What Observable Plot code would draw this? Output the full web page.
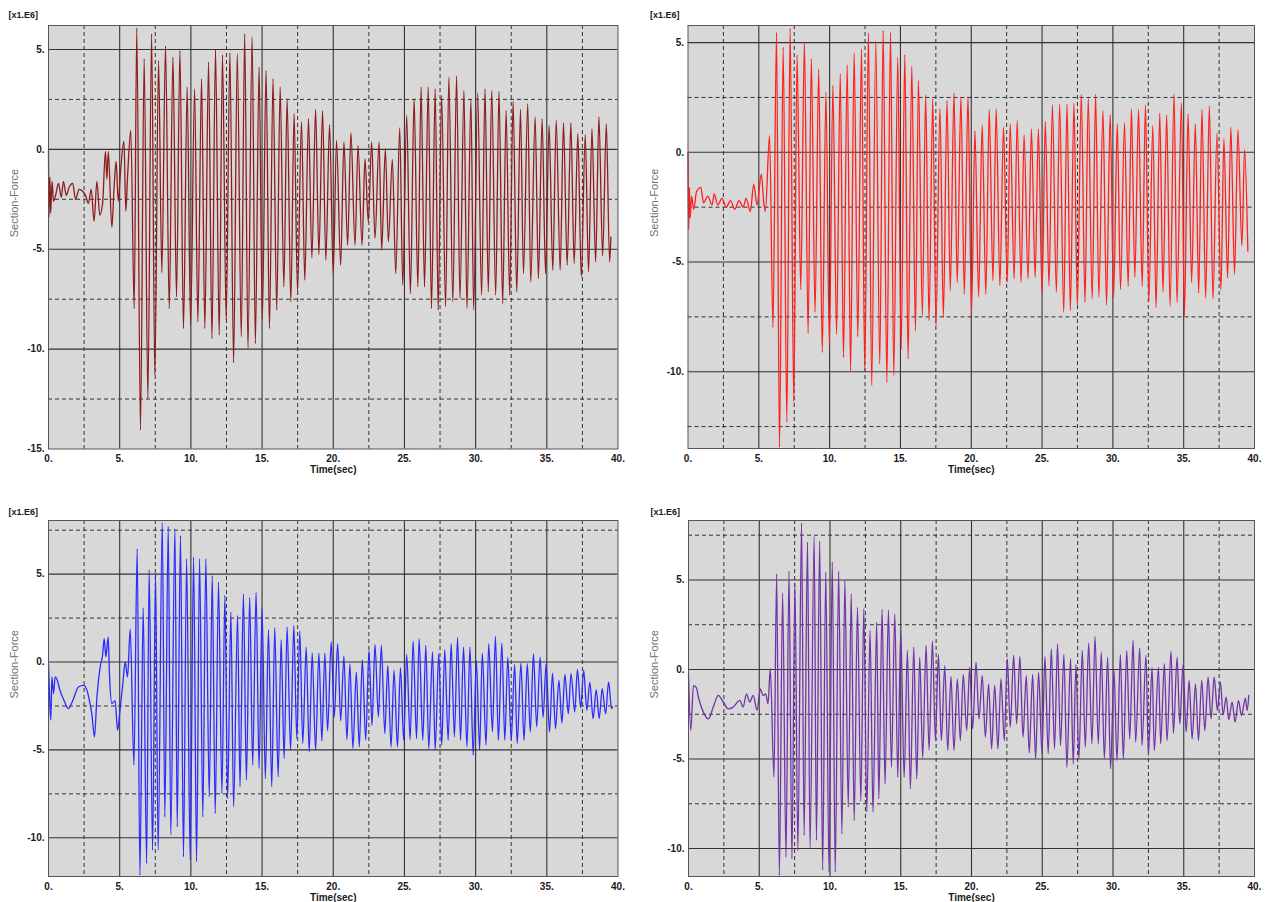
<!DOCTYPE html>
<html>
<head>
<meta charset="utf-8">
<script src="https://cdn.jsdelivr.net/npm/d3@7"></script>
<script src="https://cdn.jsdelivr.net/npm/@observablehq/plot@0.6"></script>
<style>
  html, body { margin: 0; padding: 0; background: #fff; }
  body { width: 1270px; height: 902px; position: relative; overflow: hidden; font-family: "Liberation Sans", Arial, sans-serif; }
  .panel { position: absolute; }
  .panel svg { display: block; }
</style>
</head>
<body>
<div id="p1" class="panel" style="left:0px;top:0px"></div>
<div id="p2" class="panel" style="left:635px;top:0px"></div>
<div id="p3" class="panel" style="left:0px;top:490px"></div>
<div id="p4" class="panel" style="left:635px;top:490px"></div>
<script>
// Section force time histories (units of 1e6), sampled at the turning points of each record.

// Top-left record (dark red)
const p1Time = [0,0.03,0.1,0.15,0.25,0.35,0.5,0.7,0.9,1.05,1.25,1.45,1.7,1.9,2.15,2.4,2.6,2.8,3.0,3.2,3.4,3.6,3.8,4.0,4.1,4.2,4.45,4.6,4.75,4.9,5.05,5.3,5.43,5.55,5.78,
  6.02,6.2,6.46,6.72,6.98,7.24,7.47,7.73,7.96,8.22,8.48,8.74,8.99,9.23,9.48,9.74,9.98,10.26,10.49,10.75,10.98,11.24,11.48,11.73,11.99,12.22,12.48,12.74,13.0,
  13.26,13.54,13.78,14.01,14.3,14.53,14.79,15.02,15.28,15.52,15.77,16.03,16.27,16.53,16.76,17.02,17.25,17.49,17.77,18.0,18.26,18.5,18.76,18.99,19.25,19.48,19.74,20.0,
  20.23,20.52,20.75,21.01,21.24,21.53,21.74,22.02,22.23,22.46,22.7,22.93,23.22,23.4,23.66,23.87,24.15,24.39,24.67,24.88,25.16,25.42,25.68,25.94,26.17,26.41,26.67,26.9,
  27.16,27.37,27.61,27.89,28.12,28.4,28.66,28.9,29.18,29.39,29.67,29.86,30.14,30.42,30.66,30.89,31.13,31.41,31.64,31.9,32.14,32.39,32.63,32.89,33.15,33.36,33.66,33.87,
  34.18,34.41,34.67,34.91,35.16,35.42,35.66,35.94,36.17,36.43,36.69,36.92,37.18,37.42,37.7,37.93,38.17,38.43,38.66,38.92,39.18,39.41,39.5];
const p1Force = [0,-3.4,-1.4,-3.2,-1.6,-2.6,-2.3,-1.7,-2.4,-1.6,-2.3,-1.9,-1.7,-2.5,-2.0,-2.1,-2.3,-2.7,-2.0,-3.6,-1.6,-3.3,-2.7,-0.1,-1.5,-0.1,-3.9,-2.0,-0.6,-2.6,-1.2,0.4,-3.1,-1.4,0.95,
  -7.97,6.07,-14.05,4.53,-12.47,5.78,-11.3,4.45,-6.17,5.17,-7.97,4.62,-7.38,4.95,-8.97,3.12,-8.8,3.03,-8.63,3.53,-8.97,4.37,-9.47,5.0,-9.3,4.73,-8.55,4.83,-10.68,
  4.78,-9.38,5.78,-9.97,5.62,-9.72,4.12,-8.5,3.95,-8.97,3.53,-8.05,3.12,-6.88,2.53,-7.63,1.78,-7.13,1.37,-6.55,1.53,-5.43,2.0,-5.27,1.92,-5.55,1.23,-6.22,
  0.45,-5.8,0.37,-4.8,0.83,-4.8,0.2,-4.8,-0.47,-3.63,0.37,-4.47,0.37,-5.05,0.03,-4.63,-0.5,-6.22,1.07,-6.8,1.7,-7.22,2.53,-6.88,3.12,-6.88,3.12,-7.97,
  3.03,-8.05,2.7,-7.88,3.62,-7.63,3.67,-7.47,2.95,-7.97,2.5,-8.05,2.83,-7.3,3.03,-7.13,2.95,-7.3,2.9,-7.72,1.95,-7.3,2.4,-7.13,2.0,-6.22,2.28,-6.63,
  1.62,-6.47,1.53,-6.22,1.2,-6.05,1.45,-6.05,1.33,-5.8,1.33,-5.72,0.78,-6.38,0.73,-6.13,1.03,-5.63,1.62,-5.33,1.28,-5.63,-4.4];

// Top-right record (red)
const p2Time = [0,0.05,0.1,0.15,0.25,0.4,0.6,0.9,1.1,1.4,1.7,1.85,2.1,2.4,2.7,3.0,3.3,3.6,3.9,4.1,4.4,4.64,4.87,5.18,5.35,5.46,5.76,
  6.0,6.25,6.46,6.72,6.98,7.21,7.47,7.7,7.96,8.22,8.48,8.71,8.97,9.23,9.48,9.74,9.98,10.23,10.49,10.75,10.98,11.24,11.48,11.73,11.99,12.25,12.48,12.74,12.97,
  13.26,13.54,13.78,14.04,14.3,14.53,14.81,15.05,15.31,15.54,15.8,16.06,16.27,16.55,16.78,17.02,17.28,17.51,17.79,18.03,18.29,18.52,18.78,19.01,19.27,19.51,19.77,20.02,
  20.26,20.52,20.77,21.03,21.27,21.53,21.76,22.02,22.28,22.54,22.75,23.03,23.24,23.52,23.73,24.01,24.25,24.51,24.74,25.0,25.23,25.49,25.73,26.01,26.24,26.53,26.76,27.0,
  27.25,27.49,27.77,28.03,28.26,28.54,28.78,29.01,29.3,29.55,29.81,30.05,30.31,30.54,30.82,31.08,31.31,31.55,31.81,32.07,32.3,32.54,32.82,33.05,33.31,33.54,33.8,34.04,
  34.32,34.53,34.84,35.05,35.31,35.56,35.82,36.06,36.29,36.55,36.81,37.07,37.35,37.63,37.84,38.1,38.33,38.59,38.83,39.11,39.3,39.53];
const p2Force = [0,-3.5,-1.6,-3.0,-2.0,-2.6,-1.8,-1.6,-2.3,-2.0,-2.4,-1.9,-2.4,-2.1,-2.5,-2.2,-2.6,-2.2,-2.5,-2.1,-2.7,-1.45,-2.4,-1.0,-2.3,-2.7,0.76,
  -7.98,5.47,-13.45,4.79,-12.3,5.65,-11.37,4.44,-6.26,5.02,-8.24,4.26,-7.29,3.8,-9.12,2.74,-8.81,3.04,-8.28,3.57,-9.35,3.98,-9.95,4.53,-8.4,4.71,-10.0,5.44,-10.64,
  5.09,-9.65,5.55,-10.49,5.47,-10.18,4.33,-8.97,4.44,-9.42,3.92,-8.13,3.27,-7.45,2.61,-7.67,2.43,-7.9,2.0,-7.52,2.36,-6.31,2.7,-5.93,2.51,-6.46,2.55,-7.29,
  0.99,-6.58,1.25,-6.46,1.93,-5.85,1.98,-6.08,1.14,-5.93,1.29,-5.78,1.44,-5.93,0.79,-5.78,1.06,-5.7,1.06,-6.38,1.4,-6.08,2.16,-6.38,2.2,-7.29,2.2,-7.22,
  2.24,-6.99,2.65,-6.84,2.45,-6.69,2.65,-6.61,1.9,-6.96,1.72,-6.61,1.29,-6.26,1.34,-6.11,1.98,-5.7,1.95,-6.11,2.16,-6.81,1.22,-7.08,1.79,-6.35,1.7,-7.02,
  2.66,-6.84,2.25,-7.45,1.75,-5.93,1.29,-6.41,1.95,-6.63,2.1,-6.69,0.88,-6.28,0.61,-5.73,1.14,-5.55,1.03,-4.26,0.12,-4.5];

// Bottom-left record (blue)
const p3Time = [0,0.1,0.16,0.24,0.35,0.47,0.6,0.8,1.1,1.4,1.7,2.1,2.46,2.7,2.85,3.05,3.23,3.4,3.63,3.8,3.91,4.03,4.19,4.28,4.45,4.68,4.85,5.03,5.22,5.39,5.55,5.74,
  6.0,6.23,6.42,6.65,6.89,7.07,7.31,7.52,7.7,7.99,8.17,8.41,8.59,8.88,9.04,9.27,9.48,9.7,9.95,10.19,10.4,10.61,10.84,11.05,11.29,11.5,11.71,11.94,12.18,12.39,12.58,12.81,13.0,
  13.28,13.45,13.69,13.9,14.13,14.34,14.58,14.79,15.0,15.23,15.45,15.68,15.89,16.13,16.34,16.55,16.76,17.0,17.23,17.44,17.65,17.86,18.1,18.31,18.52,18.76,18.99,19.2,19.41,19.6,
  19.86,20.07,20.31,20.52,20.75,20.96,21.17,21.38,21.62,21.83,22.04,22.28,22.51,22.72,22.93,23.17,23.38,23.62,23.83,24.06,24.27,24.51,24.72,24.95,25.16,25.4,25.61,25.85,26.03,26.29,
  26.5,26.71,26.97,27.16,27.41,27.62,27.83,28.07,28.28,28.51,28.73,28.94,29.15,29.39,29.6,29.83,30.05,30.28,30.47,30.73,30.92,31.18,31.39,31.6,31.84,32.05,32.26,32.5,32.74,32.92,
  33.18,33.4,33.63,33.84,34.06,34.29,34.53,34.74,34.95,35.19,35.4,35.61,35.85,36.06,36.27,36.51,36.7,36.96,37.15,37.38,37.59,37.81,38.02,38.25,38.47,38.68,38.89,39.13,39.34,39.55,39.62];
const p3Force = [-0.1,-2.5,-3.3,-0.85,-1.8,-0.85,-1.0,-1.6,-2.2,-2.65,-2.2,-1.42,-1.33,-1.6,-2.1,-3.0,-4.26,-2.0,-0.28,0.4,1.33,0.3,1.42,-0.66,-2.37,-2.2,-3.88,-2.65,-1.23,0.0,-0.85,1.89,
  -5.87,6.44,-12.12,3.09,-11.46,5.25,-10.7,5.02,-10.7,7.95,-8.81,7.71,-9.85,7.58,-9.38,7.2,-11.08,5.87,-11.27,5.97,-11.36,5.87,-8.81,5.87,-7.67,4.92,-8.62,4.55,-7.48,3.79,-7.77,2.84,-8.24,
  2.65,-7.1,3.86,-6.72,3.67,-5.87,3.94,-6.06,3.03,-6.63,1.83,-7.1,1.95,-6.53,1.27,-5.49,1.99,-5.02,2.08,-4.36,1.76,-4.64,0.85,-5.11,0.51,-5.02,0.51,-4.49,0.51,-3.92,
  1.14,-3.13,1.04,-3.35,0.34,-4.41,-0.09,-4.92,-0.57,-4.83,0.13,-4.45,0.66,-3.6,1.0,-3.13,0.95,-4.07,-0.19,-4.83,-0.47,-4.83,-0.32,-4.45,0.43,-4.41,1.19,-4.36,1.33,-4.45,
  0.95,-4.92,0.57,-4.98,0.47,-4.73,0.7,-4.45,1.04,-4.26,1.38,-4.45,0.85,-4.83,0.85,-5.3,0.09,-4.98,0.51,-4.73,1.04,-3.98,1.46,-4.45,1.08,-4.45,0.28,-4.45,-0.13,-4.64,
  -0.06,-4.45,-0.09,-3.98,0.47,-3.69,0.28,-3.16,-0.09,-3.98,-0.63,-3.79,-1.04,-3.47,-0.7,-2.94,-0.66,-2.84,-0.44,-2.6,-0.47,-2.75,-1.14,-3.22,-1.57,-3.22,-1.52,-2.94,-1.14,-2.65,-2.56];

// Bottom-right record (purple)
const p4Time = [0,0.16,0.35,0.55,0.7,1.05,1.4,1.75,2.1,2.46,2.81,3.16,3.63,3.86,4.1,4.33,4.57,4.85,5.08,5.27,5.46,5.62,5.78,
  6.04,6.23,6.42,6.65,6.89,7.1,7.31,7.52,7.73,7.99,8.17,8.41,8.59,8.88,9.04,9.27,9.48,9.7,9.93,10.16,10.37,10.61,10.84,11.05,11.29,11.5,11.71,11.94,12.18,12.39,12.6,12.83,13.04,
  13.3,13.45,13.68,13.89,14.13,14.34,14.58,14.79,15.0,15.24,15.47,15.68,15.92,16.13,16.34,16.55,16.79,17.0,17.24,17.45,17.66,17.87,18.11,18.32,18.55,18.76,19.0,19.21,19.42,19.66,
  19.87,20.08,20.32,20.53,20.76,20.98,21.21,21.42,21.64,21.87,22.08,22.32,22.53,22.74,22.98,23.19,23.42,23.64,23.87,24.08,24.32,24.53,24.74,24.98,25.19,25.42,25.64,25.87,26.08,26.29,
  26.53,26.74,27.0,27.19,27.38,27.59,27.83,28.04,28.28,28.51,28.73,28.96,29.17,29.39,29.62,29.83,30.07,30.28,30.52,30.73,30.97,31.18,31.42,31.6,31.89,32.05,32.33,32.5,32.76,32.92,
  33.21,33.37,33.63,33.82,34.1,34.27,34.53,34.72,34.95,35.17,35.38,35.59,35.83,36.04,36.27,36.49,36.72,36.93,37.15,37.38,37.59,37.78,38.0,38.18,38.42,38.63,38.87,39.08,39.36,39.48,39.6];
const p4Force = [-0.25,-3.4,-0.9,-1.0,-1.55,-2.38,-2.76,-2.1,-1.45,-1.82,-2.2,-2.1,-1.73,-2.1,-1.36,-1.82,-1.45,-2.27,-1.08,-1.45,-1.36,-1.92,0.04,
  -6.0,5.34,-11.5,4.26,-10.48,5.49,-10.58,4.82,-10.11,8.18,-9.27,7.11,-9.96,7.43,-9.55,7.17,-11.19,5.44,-11.32,6.0,-11.32,5.49,-9.18,4.97,-7.69,4.23,-8.44,3.48,-7.36,3.39,-7.97,2.18,-7.97,
  2.64,-7.22,3.35,-6.39,3.31,-5.46,3.09,-6.02,2.2,-6.02,1.06,-6.67,1.25,-6.11,0.69,-4.93,1.34,-4.49,1.58,-3.97,0.84,-3.97,0.22,-4.53,-0.39,-4.53,-0.52,-3.97,-0.28,-3.41,
  0.13,-3.32,0.41,-2.76,-0.34,-3.78,-0.8,-4.43,-0.89,-4.43,-0.52,-3.97,0.6,-3.22,0.78,-3.03,0.73,-3.78,-0.34,-4.67,-0.28,-4.99,-0.15,-4.71,0.73,-4.71,1.15,-4.43,1.43,-4.25,
  0.84,-5.46,0.6,-5.27,0.28,-4.99,1.06,-4.34,1.47,-4.15,1.84,-4.15,0.97,-4.99,0.69,-5.55,-0.02,-5.09,0.84,-4.99,1.06,-3.88,1.62,-4.06,1.21,-4.25,0.78,-4.81,0.13,-4.53,
  0.13,-4.15,0.32,-3.97,1.02,-3.56,0.69,-3.04,0.28,-3.5,-0.61,-3.88,-0.8,-3.97,-0.61,-3.41,-0.43,-2.76,-0.43,-2.29,-0.71,-2.53,-1.55,-2.81,-1.83,-2.94,-1.74,-2.57,-1.6,-2.29,-1.45];

// Axis settings shared by the four panels
const timeTicks = [0, 5, 10, 15, 20, 25, 30, 35, 40];
const scaleNote = "[x1.E6]";
const yTitle = "Section-Force";
const xTitle = "Time(sec)";

const panels = [
  {id: "p1", time: p1Time, force: p1Force, color: "#8e1c1c", yDomain: [-15, 6.2], yTicks: [-15, -10, -5, 0, 5],
   width: 635, height: 480, mt: 25, mb: 31.5, ml: 48, mr: 17.5, noteDx: -40, noteDy: -8},
  {id: "p2", time: p2Time, force: p2Force, color: "#ff1f1f", yDomain: [-13.5, 5.78], yTicks: [-10, -5, 0, 5],
   width: 635, height: 480, mt: 25, mb: 32, ml: 52.5, mr: 16, noteDx: -38, noteDy: -8},
  {id: "p3", time: p3Time, force: p3Force, color: "#2b2bff", yDomain: [-12.2, 8.05], yTicks: [-10, -5, 0, 5],
   width: 635, height: 412, mt: 30, mb: 26, ml: 48, mr: 17.5, noteDx: -40, noteDy: -6},
  {id: "p4", time: p4Time, force: p4Force, color: "#7232a8", yDomain: [-11.56, 8.32], yTicks: [-10, -5, 0, 5],
   width: 635, height: 412, mt: 30, mb: 26, ml: 53, mr: 16, noteDx: -38, noteDy: -6}
];

const fmt = d => `${d}.`;

for (const p of panels) {
  const data = p.time.map((t, i) => ({t, f: p.force[i]}));
  const [y0, y1] = p.yDomain;
  const solidX = [5, 10, 15, 20, 25, 30, 35];
  const dashX = [2.5, 7.5, 12.5, 17.5, 22.5, 27.5, 32.5, 37.5];
  const solidY = d3.range(Math.ceil(y0 / 5) * 5, y1, 5).filter(v => v > y0 + 0.01 && v < y1 - 0.01);
  const dashY = d3.range(Math.ceil((y0 - 2.5) / 5) * 5 + 2.5, y1, 5).filter(v => v > y0 + 0.01 && v < y1 - 0.01);

  const chart = Plot.plot({
    width: p.width,
    height: p.height,
    marginTop: p.mt,
    marginBottom: p.mb,
    marginLeft: p.ml,
    marginRight: p.mr,
    style: {fontFamily: "'Liberation Sans', Arial, sans-serif", fontSize: "10px", fontWeight: "bold", color: "#1a1a1a", background: "transparent", overflow: "visible"},
    x: {domain: [0, 40], ticks: timeTicks, tickFormat: fmt, label: null},
    y: {domain: p.yDomain, ticks: p.yTicks, tickFormat: fmt, label: null},
    marks: [
      Plot.frame({fill: "#d8d8d8", stroke: null}),
      Plot.ruleX(dashX, {stroke: "#333", strokeWidth: 1, strokeDasharray: "4,3"}),
      Plot.ruleY(dashY, {stroke: "#333", strokeWidth: 1, strokeDasharray: "4,3"}),
      Plot.ruleX(solidX, {stroke: "#333", strokeWidth: 1.1}),
      Plot.ruleY(solidY, {stroke: "#333", strokeWidth: 1.1}),
      Plot.line(data, {x: "t", y: "f", stroke: p.color, strokeWidth: 1.3, strokeLinejoin: "round", curve: "monotone-x"}),
      Plot.frame({stroke: "#555", strokeWidth: 1}),
      Plot.axisX({ticks: timeTicks, tickFormat: fmt, tickSize: 0, tickPadding: 6, label: null}),
      Plot.axisY({ticks: p.yTicks, tickFormat: fmt, tickSize: 0, tickPadding: 4, label: null}),
      Plot.text([xTitle], {frameAnchor: "bottom", dy: 24, fontWeight: "bold", fontSize: 10, fill: "#1a1a1a"}),
      Plot.text([yTitle], {frameAnchor: "left", dx: -34, rotate: -90, fontWeight: "normal", fontSize: 11, fill: "#707070"}),
      Plot.text([scaleNote], {frameAnchor: "top-left", textAnchor: "start", lineAnchor: "bottom", dx: p.noteDx, dy: p.noteDy, fontWeight: "bold", fontSize: 9, fill: "#1a1a1a"})
    ]
  });
  document.getElementById(p.id).appendChild(chart);
}
</script>
</body>
</html>
